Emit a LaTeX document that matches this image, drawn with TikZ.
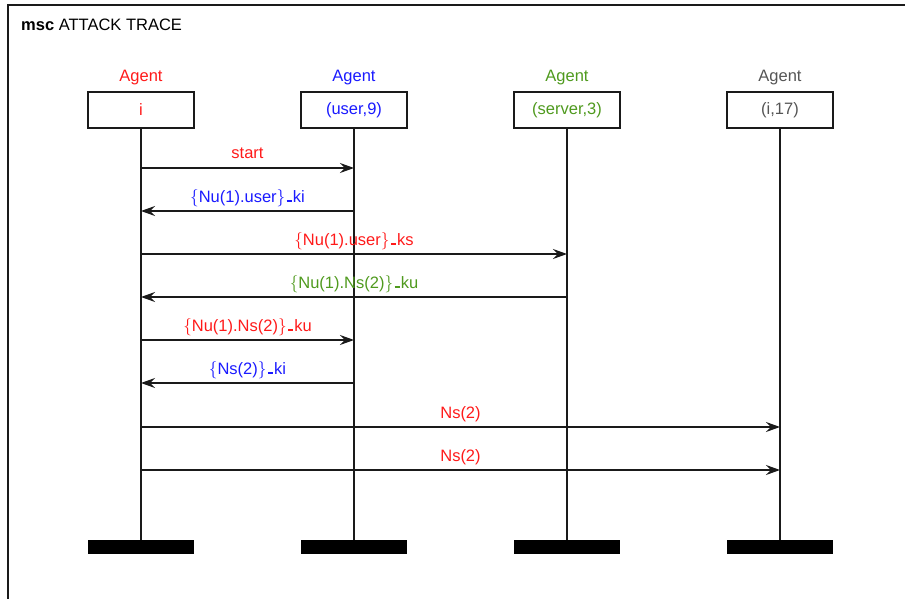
\documentclass[tikz,border=0pt]{standalone}
\usepackage{fontspec}
\setmainfont{Liberation Sans}
\usetikzlibrary{arrows.meta,positioning}
\definecolor{ink}{HTML}{1A1A1A}
\definecolor{msgred}{HTML}{FF1A1A}
\definecolor{msgblue}{HTML}{1A1AFF}
\definecolor{msggreen}{HTML}{4F9A1E}
\definecolor{msggray}{HTML}{555555}
% braces and key separator as printed in the trace
\newcommand{\lbr}{\ensuremath{\{}}
\newcommand{\rbr}{\ensuremath{\}}}
\newcommand{\keysep}{\kern0.08em\rule{0.32em}{1.8pt}\kern0.06em}

\begin{document}
\begin{tikzpicture}[
  x=1pt, y=-1pt,
  font=\fontsize{16.5}{19}\selectfont,
  agentbox/.style={draw=ink, line width=1.6pt, fill=white,
    minimum width=106pt, minimum height=36pt, inner sep=0pt},
  agentname/.style={above=3pt of #1},
  endbar/.style={fill=black, minimum width=106pt, minimum height=14pt, inner sep=0pt},
  lifeline/.style={draw=ink, line width=1.3pt},
  msg/.style={-{Stealth[length=14pt,width=10pt,inset=5pt]}, line width=1.3pt, draw=ink},
  msglabel/.style={midway, anchor=base, yshift=9pt}
]

\useasboundingbox (0,0) rectangle (905,599);
\clip (0,0) rectangle (905,599);

% frame
\draw[draw=ink, line width=1.6pt] (8,620) -- (8,5) -- (930,5);
\node[anchor=base west, inner sep=0pt] (title) at (21,31) {\textbf{msc} ATTACK TRACE};

% agents
\node[agentbox, text=msgred] (i) at (141,110) {i};
\node[agentbox, text=msgblue] (user) at (354,110) {(user,9)};
\node[agentbox, text=msggreen] (server) at (567,110) {(server,3)};
\node[agentbox, text=msggray] (intr) at (780,110) {(i,17)};

\node[agentname=i, text=msgred] (iName) {Agent};
\node[agentname=user, text=msgblue] (userName) {Agent};
\node[agentname=server, text=msggreen] (serverName) {Agent};
\node[agentname=intr, text=msggray] (intrName) {Agent};

\node[endbar] (iEnd) at (141,547) {};
\node[endbar] (userEnd) at (354,547) {};
\node[endbar] (serverEnd) at (567,547) {};
\node[endbar] (intrEnd) at (780,547) {};

\draw[lifeline] (i.south) -- (iEnd.north);
\draw[lifeline] (user.south) -- (userEnd.north);
\draw[lifeline] (server.south) -- (serverEnd.north);
\draw[lifeline] (intr.south) -- (intrEnd.north);

% message rows
\coordinate (m1) at (0,168);
\coordinate (m2) at (0,211);
\coordinate (m3) at (0,254);
\coordinate (m4) at (0,297);
\coordinate (m5) at (0,340);
\coordinate (m6) at (0,383);
\coordinate (m7) at (0,427);
\coordinate (m8) at (0,470);

\draw[msg] (i |- m1) -- (user |- m1) node[msglabel, text=msgred] {start};
\draw[msg] (user |- m2) -- (i |- m2) node[msglabel, text=msgblue] {\lbr Nu(1).user\rbr\keysep ki};
\draw[msg] (i |- m3) -- (server |- m3) node[msglabel, text=msgred] {\lbr Nu(1).user\rbr\keysep ks};
\draw[msg] (server |- m4) -- (i |- m4) node[msglabel, text=msggreen] {\lbr Nu(1).Ns(2)\rbr\keysep ku};
\draw[msg] (i |- m5) -- (user |- m5) node[msglabel, text=msgred] {\lbr Nu(1).Ns(2)\rbr\keysep ku};
\draw[msg] (user |- m6) -- (i |- m6) node[msglabel, text=msgblue] {\lbr Ns(2)\rbr\keysep ki};
\draw[msg] (i |- m7) -- (intr |- m7) node[msglabel, text=msgred] {Ns(2)};
\draw[msg] (i |- m8) -- (intr |- m8) node[msglabel, text=msgred] {Ns(2)};

\end{tikzpicture}
\end{document}
